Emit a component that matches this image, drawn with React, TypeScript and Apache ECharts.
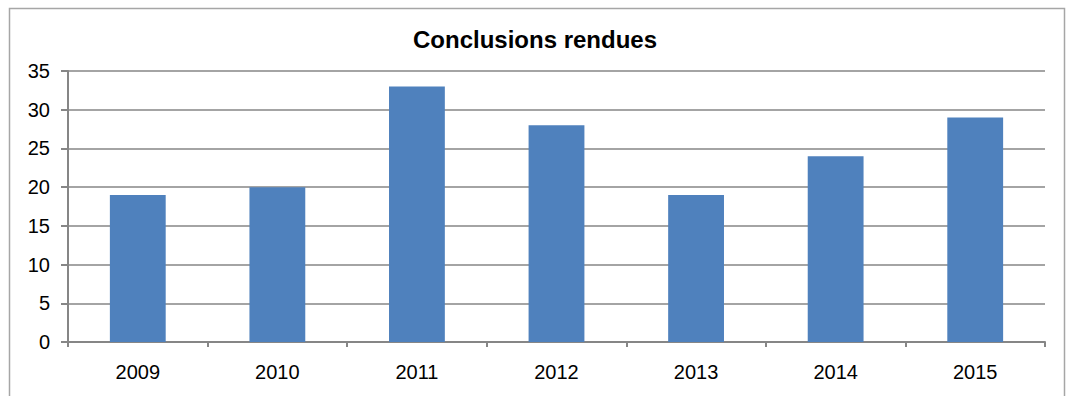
import React, { useEffect, useRef } from "react";
import * as echarts from "echarts";

const categories = ["2009", "2010", "2011", "2012", "2013", "2014", "2015"];
const values = [19, 20, 33, 28, 19, 24, 29];
const chartTitle = "Conclusions rendues";

export default function App() {
  const ref = useRef<HTMLDivElement>(null);
  useEffect(() => {
    if (!ref.current) return;
    const chart = echarts.init(ref.current, null, { renderer: "svg" });
    chart.setOption({
      animation: false,
      backgroundColor: "#ffffff",
      title: {
        text: chartTitle,
        left: 530,
        textAlign: "center",
        top: 22,
        textStyle: { fontFamily: "Liberation Sans, Arial", fontWeight: "bold", fontSize: 24, color: "#000" },
      },
      graphic: [
        {
          type: "rect",
          shape: { x: 9.5, y: 8.5, width: 1055, height: 420 },
          style: { fill: "none", stroke: "#a6a6a6", lineWidth: 1.5 },
          silent: true,
        },
      ],
      grid: { left: 68, right: 26, top: 71, bottom: 54 },
      xAxis: {
        type: "category",
        data: categories,
        axisLine: { lineStyle: { color: "#868686", width: 2 } },
        axisTick: { show: true, length: 5, lineStyle: { color: "#868686", width: 2 } },
        axisLabel: { color: "#000", fontSize: 20, fontFamily: "Liberation Sans, Arial", margin: 20 },
      },
      yAxis: {
        type: "value",
        min: 0,
        max: 35,
        interval: 5,
        axisLine: { show: true, lineStyle: { color: "#868686", width: 2 } },
        axisTick: { show: true, length: 7, lineStyle: { color: "#868686", width: 2 } },
        splitLine: { lineStyle: { color: "#868686", width: 1.5 } },
        axisLabel: { color: "#000", fontSize: 20, fontFamily: "Liberation Sans, Arial", margin: 18 },
      },
      series: [
        {
          type: "bar",
          data: values,
          barWidth: "40%",
          itemStyle: { color: "#4F81BD" },
        },
      ],
    });
    return () => chart.dispose();
  }, []);
  return (
    <div
      ref={ref}
      style={{ position: "absolute", left: 0, top: 0, width: 1071, height: 396 }}
    />
  );
}
